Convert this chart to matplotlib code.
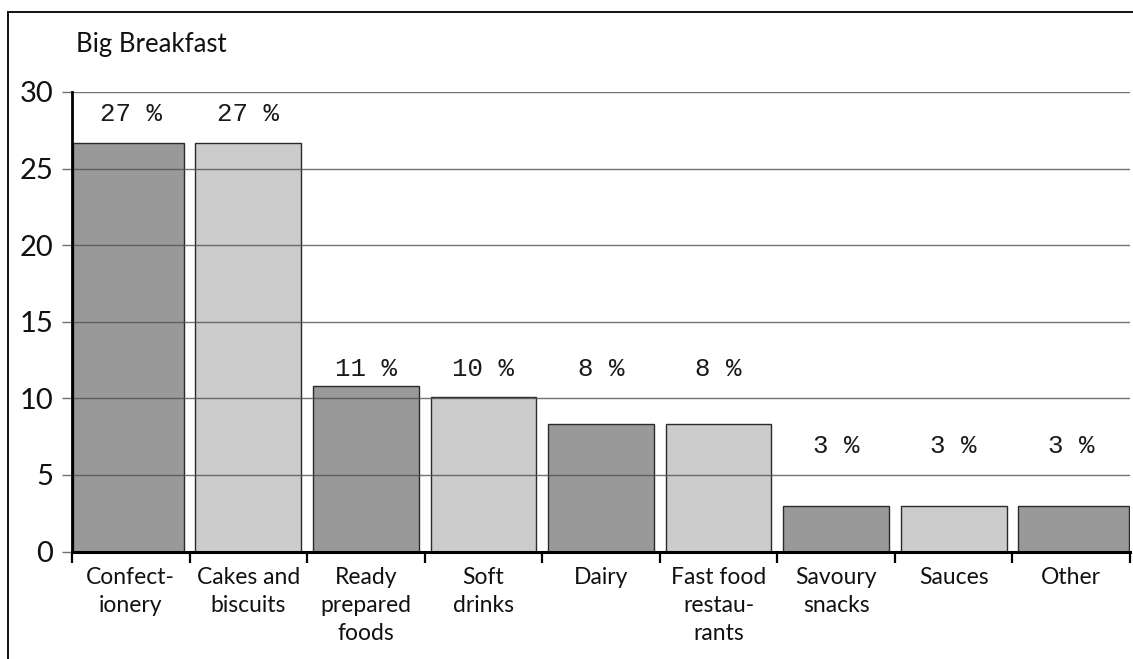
import numpy as np
import matplotlib as mpl
mpl.use('Agg')
import matplotlib.pyplot as plt
from matplotlib.lines import Line2D

# Big Breakfast - share of advertising by product category (%)
categories = ['Confect-\nionery', 'Cakes and\nbiscuits', 'Ready\nprepared\nfoods',
              'Soft\ndrinks', 'Dairy', 'Fast food\nrestau-\nrants',
              'Savoury\nsnacks', 'Sauces', 'Other']
shares = [26.7, 26.7, 10.8, 10.1, 8.3, 8.3, 3.0, 3.0, 3.0]
yticks = [0, 5, 10, 15, 20, 25, 30]

# heights at which the percentage labels sit
label_y = [28.56, 28.56, 11.9, 11.9, 11.9, 11.9, 6.86, 6.86, 6.86]

plt.rcParams['font.family'] = ['Lato', 'DejaVu Sans']

W, H = 1133, 659
fig = plt.figure(figsize=(W / 100, H / 100), dpi=100)
ax = fig.add_axes([72 / W, 1 - 551.5 / H, (1130 - 72) / W, (551.5 - 92) / H])

n = len(shares)
x = np.arange(n)
left = x - 0.45
right = x + 0.45
# end bars run up to the axis ends
left[0] = -0.49
right[-1] = n - 0.51
colors = ['#999999' if i % 2 == 0 else '#cccccc' for i in range(n)]
ax.bar(left, shares, width=right - left, align='edge', color=colors,
       edgecolor='#2a2a2a', linewidth=1.0, zorder=2)

for xi, v, ly in zip(x, shares, label_y):
    ax.text(xi, ly, '{} %'.format(int(round(v))), ha='center', va='center',
            fontsize=18.5, family='Liberation Mono', color='#1a1a1a', zorder=4)

ax.set_xlim(-0.5, n - 0.5)
ax.set_ylim(0, 30)

# horizontal grid drawn over the bars
for t in yticks[1:]:
    ax.axhline(t, color='#505050', alpha=0.8, lw=1.0, zorder=3)

ax.set_yticks(yticks)
ax.set_yticklabels([str(t) for t in yticks], fontsize=21, color='#111111')
ax.tick_params(axis='y', direction='out', length=7.5, width=1.0, color='#707070', pad=6)

ax.set_xticks(x)
ax.set_xticklabels(categories, fontsize=16.5, color='#111111', linespacing=1.4, va='top')
ax.set_xticks(np.arange(n + 1) - 0.5, minor=True)
ax.tick_params(axis='x', which='major', length=0, pad=11.5)
ax.tick_params(axis='x', which='minor', direction='out', length=8, width=1.6, color='black')

for s in ['top', 'right']:
    ax.spines[s].set_visible(False)
ax.spines['left'].set_linewidth(2.0)
ax.spines['bottom'].set_linewidth(2.2)
ax.spines['left'].set_zorder(5)
ax.spines['bottom'].set_zorder(5)

fig.text(76 / W, 1 - 52 / H, 'Big Breakfast', fontsize=18.5, color='#111111',
         ha='left', va='baseline')

# outer frame, open at right and bottom
fig.add_artist(Line2D([7.5 / W, 7.5 / W], [0, 1 - 11.5 / H], color='#111111', lw=1.4))
fig.add_artist(Line2D([7.5 / W, 1], [1 - 11.5 / H, 1 - 11.5 / H], color='#111111', lw=1.4))

fig.savefig('out.png', dpi=100)
plt.close(fig)
